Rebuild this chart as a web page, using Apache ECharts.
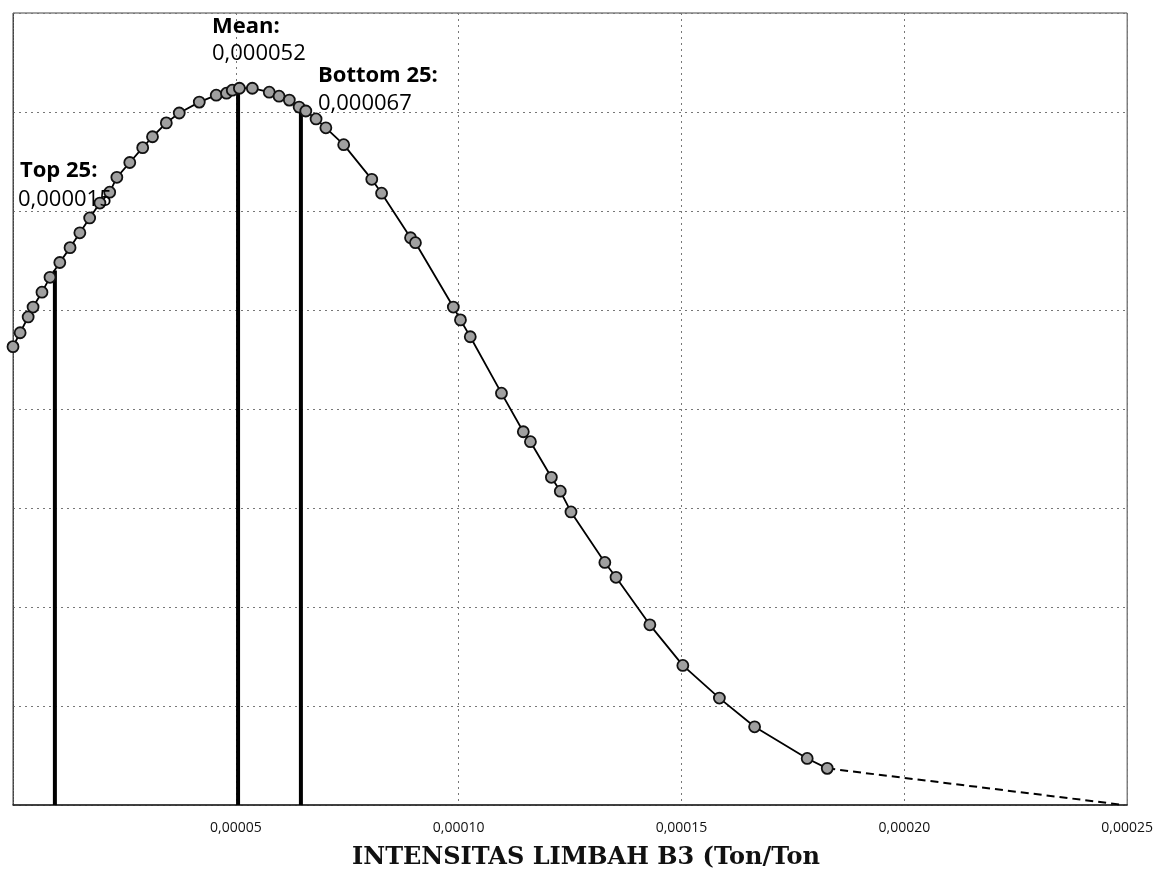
<!DOCTYPE html>
<html>
<head>
<meta charset="utf-8">
<script src="https://cdn.jsdelivr.net/npm/echarts@6/dist/echarts.min.js"></script>
<style>
  html, body { margin: 0; padding: 0; background: #fff; }
  #chart { width: 1156px; height: 874px; }
</style>
</head>
<body>
<div id="chart"></div>
<script>
// ---- data ----
const xTicks = [0, 0.00005, 0.00010, 0.00015, 0.00020, 0.00025];
const xTickLabels = ['', '0,00005', '0,00010', '0,00015', '0,00020', '0,00025'];

// intensity (Ton/Ton) of each plotted point
const intensity = [
  0.0000000, 0.0000016, 0.0000034, 0.0000045, 0.0000065, 0.0000083, 0.0000105,
  0.0000128, 0.0000150, 0.0000172, 0.0000195, 0.0000217, 0.0000233, 0.0000262,
  0.0000291, 0.0000313, 0.0000344, 0.0000373, 0.0000418, 0.0000456, 0.0000479,
  0.0000492, 0.0000508, 0.0000537, 0.0000575, 0.0000597, 0.0000620, 0.0000642,
  0.0000657, 0.0000680, 0.0000702, 0.0000742, 0.0000805, 0.0000827, 0.0000892,
  0.0000903, 0.0000988, 0.0001004, 0.0001026, 0.0001096, 0.0001145, 0.0001161,
  0.0001208, 0.0001228, 0.0001252, 0.0001328, 0.0001353, 0.0001429, 0.0001503,
  0.0001585, 0.0001664, 0.0001782, 0.0001827, 0.0002493
];
// height of the distribution curve at each point (relative units)
const density = [
  4.63, 4.77, 4.93, 5.03, 5.18, 5.33, 5.48,
  5.63, 5.78, 5.93, 6.08, 6.19, 6.34, 6.49,
  6.64, 6.75, 6.89, 6.99, 7.10, 7.17, 7.19,
  7.22, 7.24, 7.24, 7.20, 7.16, 7.12, 7.05,
  7.01, 6.93, 6.84, 6.67, 6.32, 6.18, 5.73,
  5.68, 5.03, 4.90, 4.73, 4.16, 3.77, 3.67,
  3.31, 3.17, 2.96, 2.45, 2.30, 1.82, 1.41,
  1.08, 0.79, 0.47, 0.37, 0.00
];

// reference lines
const refNames  = ['Top 25:', 'Mean:', 'Bottom 25:'];
const refValues = ['0,000015', '0,000052', '0,000067'];
const refX      = [0.0000094, 0.0000505, 0.0000646];
const refTop    = [5.40, 7.24, 7.01];

// ---- build ----
const pts = intensity.map((x, i) => [x, density[i]]);
const mainPts = pts.slice(0, pts.length - 1);
const tailPts = pts.slice(pts.length - 2);

const refSeries = refX.map((x, i) => ({
  type: 'line',
  name: refNames[i],
  data: [[x, 0], [x, refTop[i]]],
  symbol: 'none',
  lineStyle: { color: '#000', width: 4 },
  z: 3,
  silent: true
}));

const labelPos = [
  { x: 20, y1: 175, y2: 204 },
  { x: 212, y1: 31, y2: 58 },
  { x: 318, y1: 80, y2: 108 }
];
const labelGraphics = [];
refNames.forEach((n, i) => {
  labelGraphics.push({
    type: 'text', left: labelPos[i].x, top: labelPos[i].y1 - 15, z: 100,
    style: { text: n, font: 'bold 22px "Open Sans", "Noto Sans", sans-serif', fill: '#000' }
  });
  labelGraphics.push({
    type: 'text', left: labelPos[i].x - (i === 0 ? 2 : 0), top: labelPos[i].y2 - 15, z: 100,
    style: { text: refValues[i], font: '22px "Open Sans", "Noto Sans", sans-serif', fill: '#000' }
  });
});

const chart = echarts.init(document.getElementById('chart'), null, { renderer: 'canvas' });
chart.setOption({
  backgroundColor: '#fff',
  animation: false,
  grid: { left: 13, right: 24, top: 13, bottom: 69, show: true, borderColor: '#444', borderWidth: 1 },
  xAxis: {
    type: 'value',
    min: xTicks[0], max: xTicks[xTicks.length - 1], interval: xTicks[1] - xTicks[0],
    axisLine: { show: true, lineStyle: { color: '#222', width: 1.5 } },
    axisTick: { show: false },
    axisLabel: {
      margin: 16,
      color: '#111',
      fontFamily: '"Open Sans", sans-serif',
      fontSize: 14,
      formatter: v => xTickLabels[Math.round(v / (xTicks[1] - xTicks[0]))] || ''
    },
    splitLine: { show: true, lineStyle: { color: '#777', type: [2, 4], width: 1 } }
  },
  yAxis: {
    type: 'value', min: 0, max: 8, interval: 1,
    axisLine: { show: true, lineStyle: { color: '#444', type: [2, 1], width: 1 } },
    axisTick: { show: false },
    axisLabel: { show: false },
    splitLine: { show: true, lineStyle: { color: '#777', type: [2, 4], width: 1 } }
  },
  series: [
    ...refSeries,
    {
      type: 'line',
      name: 'curve',
      data: mainPts,
      symbol: 'circle',
      symbolSize: 11,
      showAllSymbol: true,
      lineStyle: { color: '#000', width: 1.8 },
      itemStyle: { color: '#a0a0a0', borderColor: '#111', borderWidth: 1.8 },
      z: 5
    },
    {
      type: 'line',
      name: 'tail',
      data: tailPts,
      symbol: 'none',
      lineStyle: { color: '#000', width: 2, type: [8, 5] },
      z: 4
    }
  ],
  graphic: [
    ...labelGraphics,
    {
      type: 'text', left: 352, top: 846, z: 100,
      style: {
        text: 'INTENSITAS LIMBAH B3 (Ton/Ton',
        font: 'bold 24px "DejaVu Serif", "Liberation Serif", serif',
        fill: '#111'
      }
    }
  ]
});
</script>
</body>
</html>
